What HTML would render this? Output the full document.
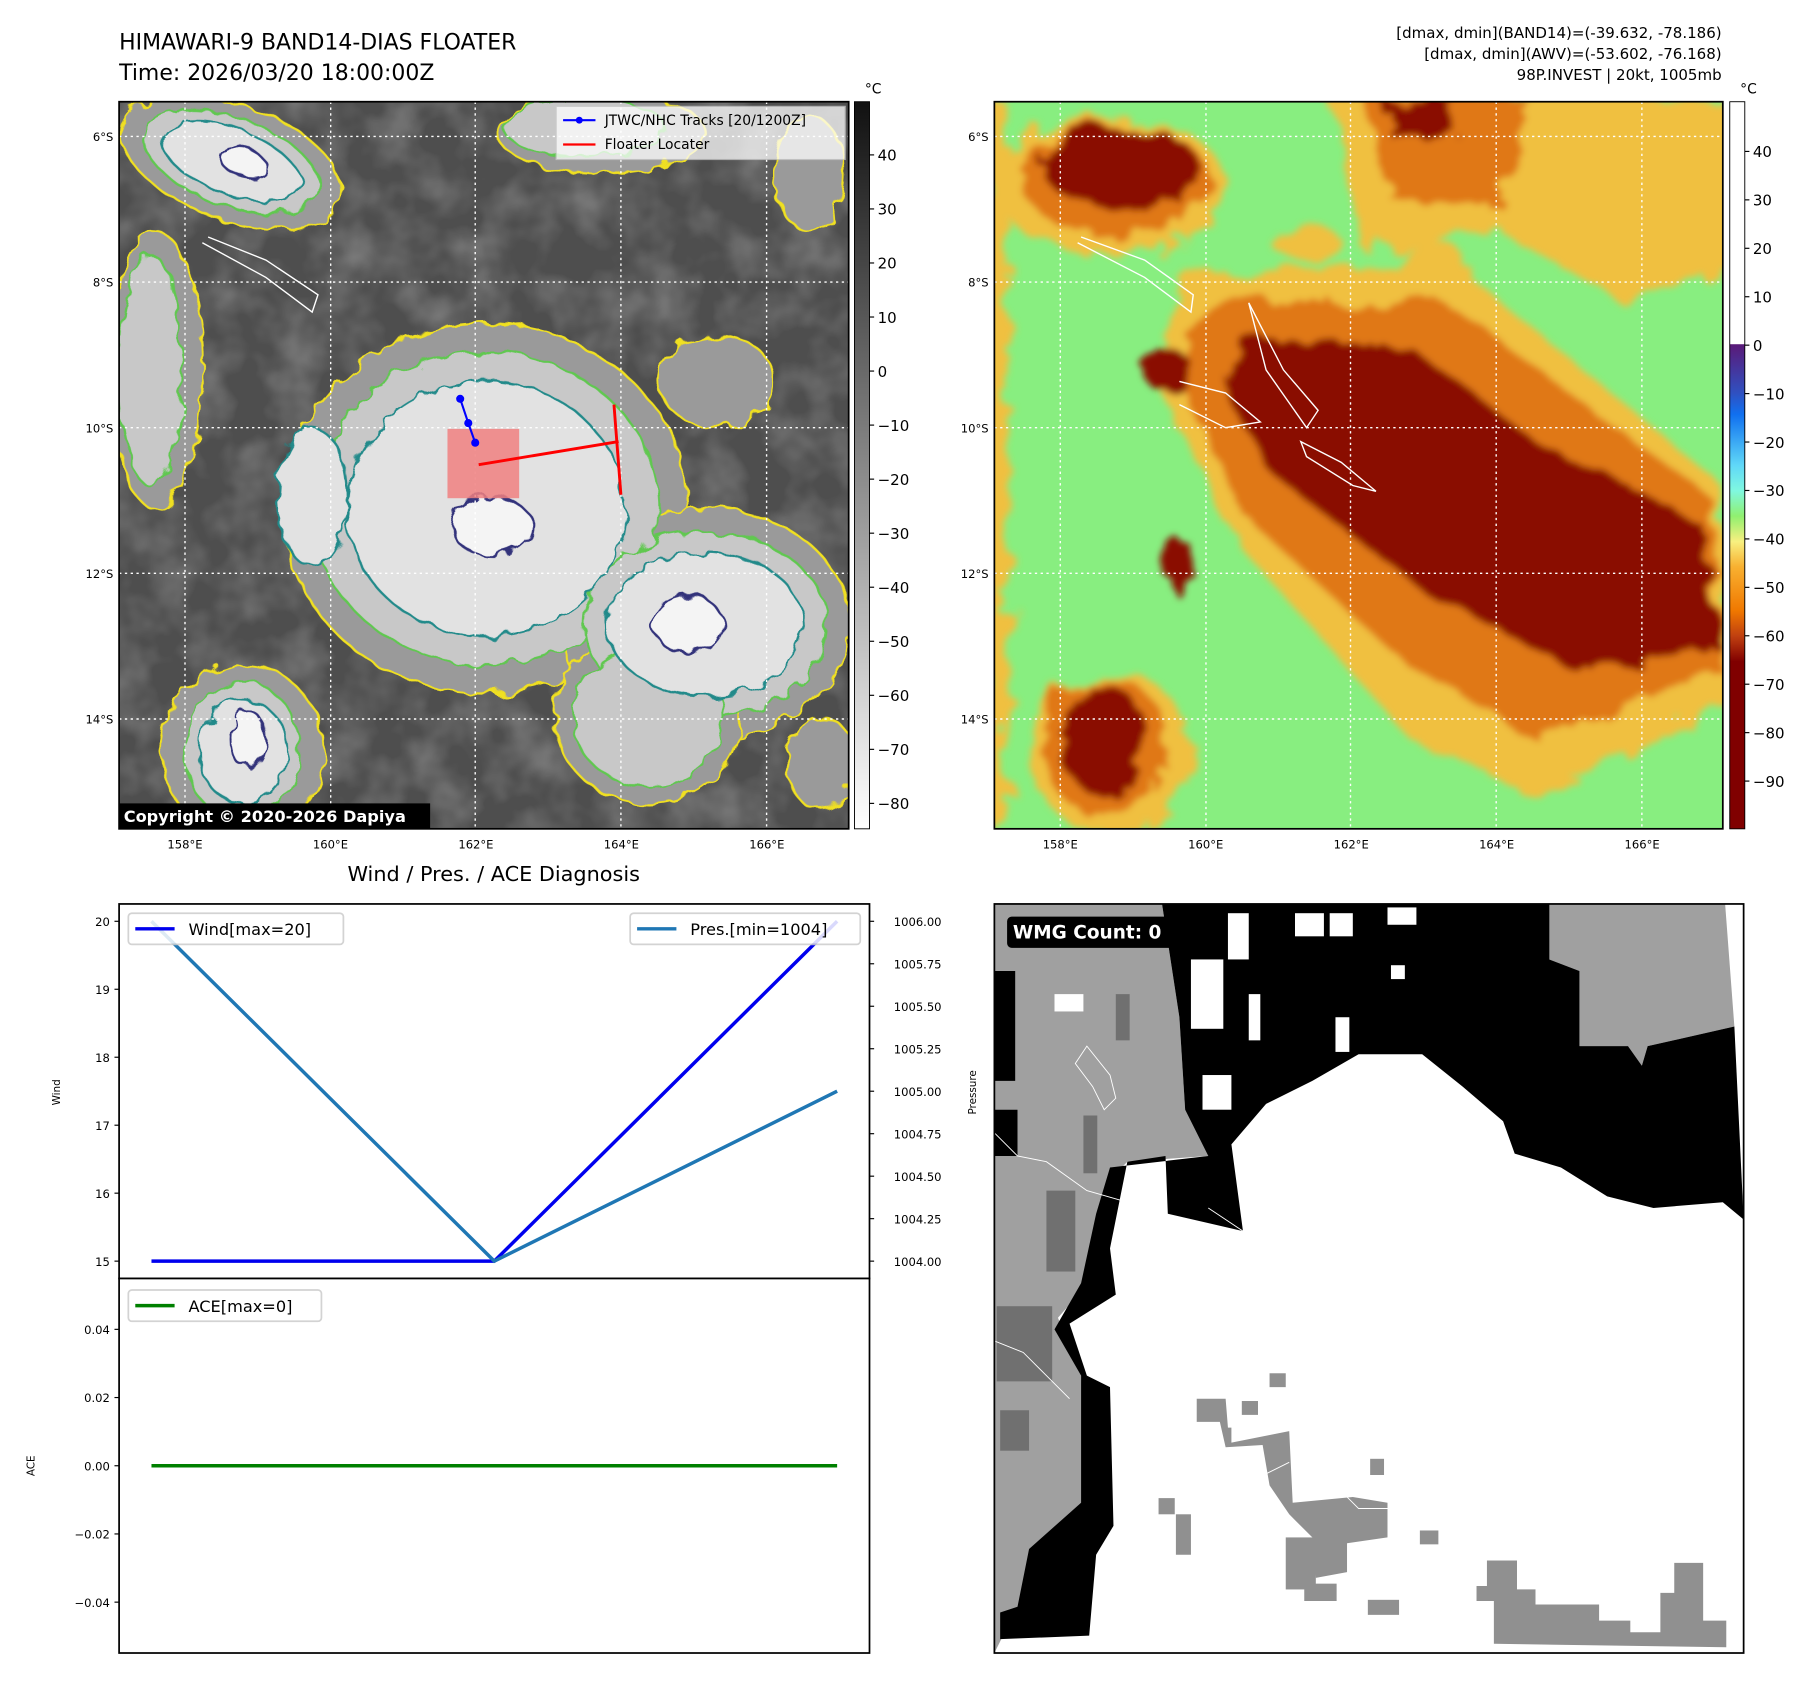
<!DOCTYPE html>
<html><head><meta charset="utf-8">
<style>
html,body{margin:0;padding:0;background:#fff;}
svg{display:block;font-family:"DejaVu Sans","Liberation Sans",sans-serif;}
</style></head>
<body>
<svg id="fig" width="1813" height="1690" viewBox="0 0 1568 1462" preserveAspectRatio="none" xmlns="http://www.w3.org/2000/svg">
<defs>
  <filter id="wig" x="-10%" y="-10%" width="120%" height="120%">
    <feTurbulence type="fractalNoise" baseFrequency="0.06" numOctaves="2" seed="3"/>
    <feDisplacementMap in="SourceGraphic" scale="14"/>
  </filter>
  <filter id="wig2" x="-10%" y="-10%" width="120%" height="120%">
    <feTurbulence type="fractalNoise" baseFrequency="0.04" numOctaves="3" seed="7"/>
    <feDisplacementMap in="SourceGraphic" scale="30"/>
    <feGaussianBlur stdDeviation="3"/>
  </filter>
  <filter id="noise" x="0" y="0" width="100%" height="100%">
    <feTurbulence type="fractalNoise" baseFrequency="0.025" numOctaves="3" seed="11"/>
    <feColorMatrix type="matrix" values="0 0 0 0 0.45  0 0 0 0 0.45  0 0 0 0 0.45  0 0 0 0.8 -0.3"/>
  </filter>
  <linearGradient id="cbL" x1="0" y1="0" x2="0" y2="1">
    <stop offset="0" stop-color="#111"/><stop offset="1" stop-color="#fff"/>
  </linearGradient>
  <linearGradient id="cbR" x1="0" y1="0" x2="0" y2="1">
    <stop offset="0" stop-color="#fff"/>
    <stop offset="0.333" stop-color="#fff"/>
    <stop offset="0.334" stop-color="#5a1a78"/>
    <stop offset="0.40" stop-color="#3050c0"/>
    <stop offset="0.43" stop-color="#1070f0"/>
    <stop offset="0.50" stop-color="#60d8f8"/>
    <stop offset="0.535" stop-color="#80f8e0"/>
    <stop offset="0.57" stop-color="#90f070"/>
    <stop offset="0.605" stop-color="#f8f080"/>
    <stop offset="0.64" stop-color="#f8b030"/>
    <stop offset="0.70" stop-color="#f07800"/>
    <stop offset="0.735" stop-color="#c04010"/>
    <stop offset="0.77" stop-color="#800000"/>
    <stop offset="1" stop-color="#800000"/>
  </linearGradient>
  <clipPath id="clipL"><rect x="103" y="88" width="631" height="629"/></clipPath>
  <clipPath id="clipR"><rect x="860" y="88" width="630" height="629"/></clipPath>
  <clipPath id="clipB"><rect x="860" y="782" width="648" height="648"/></clipPath>
</defs>

<text x="103" y="43" font-size="19">HIMAWARI-9 BAND14-DIAS FLOATER</text>
<text x="103" y="69" font-size="19">Time: 2026/03/20 18:00:00Z</text>
<g font-size="13" text-anchor="end">
  <text x="1489" y="33">[dmax, dmin](BAND14)=(-39.632, -78.186)</text>
  <text x="1489" y="51">[dmax, dmin](AWV)=(-53.602, -76.168)</text>
  <text x="1489" y="69">98P.INVEST | 20kt, 1005mb</text>
</g>

<!-- Left IR map -->
<g clip-path="url(#clipL)">
  <rect x="103" y="88" width="631" height="629" fill="#4e4e4e"/>
  <rect x="103" y="88" width="631" height="629" filter="url(#noise)"/>
  <g filter="url(#wig)">
    <g fill="#9a9a9a" stroke="#f0e020" stroke-width="2">
      <ellipse cx="420" cy="440" rx="175" ry="160"/>
      <ellipse cx="610" cy="540" rx="125" ry="100"/>
      <ellipse cx="560" cy="620" rx="80" ry="75"/>
      <ellipse cx="200" cy="140" rx="100" ry="50" transform="rotate(20 200 140)"/>
      <ellipse cx="210" cy="650" rx="70" ry="75"/>
      <ellipse cx="135" cy="320" rx="40" ry="120"/>
      <ellipse cx="520" cy="115" rx="90" ry="35"/>
      <ellipse cx="620" cy="330" rx="50" ry="40"/>
      <ellipse cx="700" cy="150" rx="30" ry="50"/>
      <ellipse cx="710" cy="660" rx="30" ry="40"/>
    </g>
    <g fill="#c8c8c8" stroke="#60c850" stroke-width="2">
      <ellipse cx="420" cy="440" rx="150" ry="135"/>
      <ellipse cx="610" cy="540" rx="105" ry="80"/>
      <ellipse cx="560" cy="620" rx="65" ry="60"/>
      <ellipse cx="200" cy="140" rx="80" ry="38" transform="rotate(20 200 140)"/>
      <ellipse cx="210" cy="650" rx="50" ry="60"/>
      <ellipse cx="130" cy="320" rx="28" ry="100"/>
      <ellipse cx="505" cy="110" rx="70" ry="25"/>
    </g>
    <g fill="#e2e2e2" stroke="#208a8a" stroke-width="2">
      <ellipse cx="420" cy="440" rx="120" ry="110"/>
      <ellipse cx="610" cy="540" rx="85" ry="62"/>
      <ellipse cx="200" cy="140" rx="62" ry="28" transform="rotate(20 200 140)"/>
      <ellipse cx="210" cy="650" rx="38" ry="45"/>
      <ellipse cx="270" cy="430" rx="30" ry="60"/>
    </g>
    <g fill="#f4f4f4" stroke="#30307a" stroke-width="2">
      <ellipse cx="425" cy="455" rx="35" ry="25"/>
      <ellipse cx="595" cy="540" rx="30" ry="25"/>
      <ellipse cx="215" cy="640" rx="15" ry="25"/>
      <ellipse cx="210" cy="140" rx="22" ry="12" transform="rotate(20 210 140)"/>
    </g>
  </g>
  <g stroke="#fff" stroke-width="1.2" stroke-dasharray="2,3">
    <line x1="103" y1="118" x2="734" y2="118"/><line x1="103" y1="244" x2="734" y2="244"/>
    <line x1="103" y1="370" x2="734" y2="370"/><line x1="103" y1="496" x2="734" y2="496"/>
    <line x1="103" y1="622" x2="734" y2="622"/>
    <line x1="160" y1="88" x2="160" y2="717"/><line x1="286" y1="88" x2="286" y2="717"/>
    <line x1="411" y1="88" x2="411" y2="717"/><line x1="537" y1="88" x2="537" y2="717"/>
    <line x1="663" y1="88" x2="663" y2="717"/>
  </g>
  <path d="M175 210 L230 240 L270 270 L275 255 L230 225 L180 205" fill="none" stroke="#fff" stroke-width="1.2"/>
  <rect x="387" y="371" width="62" height="60" fill="#f08080" opacity="0.85"/>
  <polyline points="414,402 535,382" stroke="#f00" stroke-width="2.5" fill="none"/>
  <polyline points="531,350 537,428" stroke="#f00" stroke-width="2.5" fill="none"/>
  <g>
    <polyline points="398,345 405,366 411,383" stroke="#00f" stroke-width="1.8" fill="none"/>
    <circle cx="398" cy="345" r="3.5" fill="#00f"/><circle cx="405" cy="366" r="3.5" fill="#00f"/><circle cx="411" cy="383" r="3.5" fill="#00f"/>
  </g>
  <g>
    <rect x="481" y="92" width="250" height="46" fill="#fff" opacity="0.75" stroke="#ccc"/>
    <line x1="487" y1="104" x2="515" y2="104" stroke="#00f" stroke-width="1.8"/><circle cx="501" cy="104" r="3" fill="#00f"/>
    <text x="523" y="108" font-size="12">JTWC/NHC Tracks [20/1200Z]</text>
    <line x1="487" y1="125" x2="515" y2="125" stroke="#f00" stroke-width="2"/>
    <text x="523" y="129" font-size="12">Floater Locater</text>
  </g>
  <rect x="103" y="695" width="269" height="22" fill="#000"/>
  <text x="107" y="711" font-size="14" font-weight="bold" fill="#fff">Copyright © 2020-2026 Dapiya</text>
</g>
<rect x="103" y="88" width="631" height="629" fill="none" stroke="#000" stroke-width="1.5"/>

<g>
  <rect x="739" y="88" width="13" height="629" fill="url(#cbL)" stroke="#000" stroke-width="0.8"/>
  <text x="748" y="81" font-size="12">°C</text>
  <g id="cbLticks" font-size="13"></g>
</g>

<!-- Right AWV map -->
<g clip-path="url(#clipR)">
  <rect x="860" y="88" width="630" height="629" fill="#88ee80"/>
  <g filter="url(#wig2)">
    <g fill="#f0c040">
      <polygon points="1150,80 1500,80 1500,230 1400,260 1300,200 1180,220"/>
      <rect x="850" y="88" width="22" height="629"/>
      <polygon points="1020,240 1260,230 1490,420 1500,600 1330,690 1220,640 1070,470 1000,330"/>
      <ellipse cx="960" cy="160" rx="100" ry="60"/>
      <ellipse cx="960" cy="650" rx="70" ry="70"/>
      <ellipse cx="1240" cy="230" rx="30" ry="20"/>
      <ellipse cx="1130" cy="210" rx="30" ry="15"/>
    </g>
    <g fill="#e07818">
      <polygon points="1180,80 1320,80 1300,180 1200,170"/>
      <polygon points="1040,260 1250,260 1480,430 1490,580 1330,640 1210,570 1080,450 1020,330"/>
      <ellipse cx="965" cy="155" rx="82" ry="48"/>
      <ellipse cx="955" cy="645" rx="55" ry="60"/>
    </g>
    <g fill="#8a0a00">
      <polygon points="1070,290 1220,300 1340,390 1470,450 1490,560 1360,580 1230,510 1100,410 1060,340"/>
      <ellipse cx="970" cy="145" rx="68" ry="36"/>
      <ellipse cx="955" cy="640" rx="38" ry="48"/>
      <rect x="1200" y="88" width="60" height="28"/>
      <ellipse cx="1010" cy="320" rx="22" ry="18"/>
      <ellipse cx="1020" cy="490" rx="12" ry="25"/>
    </g>
  </g>
  <g stroke="#fff" stroke-width="1.2" stroke-dasharray="2,3">
    <line x1="860" y1="118" x2="1490" y2="118"/><line x1="860" y1="244" x2="1490" y2="244"/>
    <line x1="860" y1="370" x2="1490" y2="370"/><line x1="860" y1="496" x2="1490" y2="496"/>
    <line x1="860" y1="622" x2="1490" y2="622"/>
    <line x1="917" y1="88" x2="917" y2="717"/><line x1="1043" y1="88" x2="1043" y2="717"/>
    <line x1="1168" y1="88" x2="1168" y2="717"/><line x1="1294" y1="88" x2="1294" y2="717"/>
    <line x1="1420" y1="88" x2="1420" y2="717"/>
  </g>
  <g fill="none" stroke="#fff" stroke-width="1.2">
    <path d="M932 210 L990 240 L1030 270 L1032 255 L990 225 L935 205"/>
    <path d="M1080 262 L1110 320 L1140 355 L1130 370 L1095 320 Z"/>
    <path d="M1125 382 L1160 400 L1190 425 L1170 420 L1130 395 Z"/>
    <path d="M1020 330 L1060 340 L1090 365 L1060 370 L1020 350"/>
  </g>
</g>
<rect x="860" y="88" width="630" height="629" fill="none" stroke="#000" stroke-width="1.5"/>

<g>
  <rect x="1496" y="88" width="13" height="629" fill="url(#cbR)" stroke="#000" stroke-width="0.8"/>
  <text x="1505" y="81" font-size="12">°C</text>
  <g id="cbRticks" font-size="13"></g>
</g>

<g id="mapLabels" font-size="10"></g>

<text x="427" y="762" font-size="18" text-anchor="middle">Wind / Pres. / ACE Diagnosis</text>
<g id="chart"></g>

<!-- WMG map -->
<g clip-path="url(#clipB)">
  <rect x="860" y="782" width="648" height="648" fill="#fff"/>
  <polygon fill="#a0a0a0" points="860,782 1005,782 1020,880 1025,960 1045,1000 975,1005 960,1020 950,1100 915,1140 935,1190 940,1300 905,1330 890,1370 870,1410 860,1430"/>
  <polygon fill="#a0a0a0" points="1340,782 1492,782 1500,888 1425,905 1420,922 1408,905 1366,905 1366,840 1340,830"/>
  <polygon fill="#000" points="1005,782 1340,782 1340,830 1366,840 1366,905 1408,905 1420,922 1425,905 1500,888 1508,1055 1490,1040 1430,1045 1390,1035 1350,1010 1310,998 1300,970 1265,940 1230,912 1175,912 1135,935 1095,955 1065,990 1075,1065 1010,1050 1008,1000 975,1005 960,1080 965,1120 925,1145 940,1190 960,1200 963,1320 948,1345 942,1415 865,1418 865,1395 880,1390 890,1340 935,1300 935,1190 912,1150 935,1110 948,1050 960,1010 1045,1000 1025,960 1020,880"/>
  <polygon fill="#000" points="860,840 878,840 878,935 860,935"/>
  <polygon fill="#000" points="860,960 880,960 880,1000 860,1000"/>
  <g fill="#fff">
    <rect x="1030" y="830" width="28" height="60"/><rect x="1062" y="790" width="18" height="40"/>
    <rect x="1150" y="790" width="20" height="20"/><rect x="1200" y="785" width="25" height="15"/>
    <rect x="1155" y="880" width="12" height="30"/><rect x="1040" y="930" width="25" height="30"/>
    <rect x="1080" y="860" width="10" height="40"/><rect x="1120" y="790" width="25" height="20"/>
    <rect x="912" y="860" width="25" height="15"/><rect x="1203" y="835" width="12" height="12"/>
  </g>
  <g fill="#707070">
    <rect x="965" y="860" width="12" height="40"/><rect x="937" y="965" width="12" height="50"/>
    <rect x="905" y="1030" width="25" height="70"/><rect x="862" y="1130" width="48" height="65"/>
    <rect x="865" y="1220" width="25" height="35"/>
  </g>
  <g fill="#909090">
    <polygon points="1035,1210 1060,1210 1062,1235 1065,1235 1065,1248 1115,1238 1118,1300 1170,1295 1200,1300 1200,1330 1165,1335 1165,1360 1138,1365 1135,1330 1115,1310 1098,1285 1092,1250 1060,1252 1055,1230 1035,1230"/>
    <rect x="1098" y="1188" width="14" height="12"/><rect x="1074" y="1212" width="14" height="12"/>
    <rect x="1185" y="1262" width="12" height="14"/><rect x="1228" y="1324" width="16" height="12"/>
    <rect x="1002" y="1296" width="14" height="14"/><rect x="1017" y="1310" width="13" height="35"/>
    <rect x="1112" y="1330" width="26" height="45"/><rect x="1128" y="1370" width="28" height="15"/>
    <rect x="1183" y="1384" width="27" height="13"/>
    <polygon points="1286,1350 1312,1350 1312,1375 1328,1375 1328,1388 1383,1388 1383,1402 1410,1402 1410,1412 1436,1412 1436,1378 1448,1378 1448,1352 1473,1352 1473,1402 1493,1402 1493,1425 1292,1422 1292,1385 1277,1385 1277,1372 1286,1372"/>
  </g>
  <path d="M930 920 L940 905 L960 930 L965 950 L955 960 L945 940 Z M860 980 L880 1000 L905 1005 L940 1030 L975 1040 M1045 1045 L1075 1065 M860 1160 L885 1170 L905 1190 L925 1210 M1095 1275 L1115 1265 M1160 1290 L1175 1305 L1200 1305" fill="none" stroke="#fff" stroke-width="0.8"/>
</g>
<rect x="860" y="782" width="648" height="648" fill="none" stroke="#000" stroke-width="1.5"/>
<rect x="871" y="793" width="155" height="27" rx="4" fill="#000"/>
<text x="876" y="812" font-size="16" font-weight="bold" fill="#fff">WMG Count: 0</text>
<text transform="translate(844,945) rotate(-90)" font-size="9" text-anchor="middle">Pressure</text>

<script>
const steps = [0, 1, 2];
const windValues = [15, 15, 20];
const presValues = [1006, 1004, 1005];
const aceValues = [0, 0, 0];
const windTicks = [15, 16, 17, 18, 19, 20];
const presTicks = [1004.00, 1004.25, 1004.50, 1004.75, 1005.00, 1005.25, 1005.50, 1005.75, 1006.00];
const aceTicks = [-0.04, -0.02, 0.00, 0.02, 0.04];
const irTicks = [40, 30, 20, 10, 0, -10, -20, -30, -40, -50, -60, -70, -80];
const awvTicks = [40, 30, 20, 10, 0, -10, -20, -30, -40, -50, -60, -70, -80, -90];
const latLabels = ["6°S", "8°S", "10°S", "12°S", "14°S"];
const lonLabels = ["158°E", "160°E", "162°E", "164°E", "166°E"];

const NS = "http://www.w3.org/2000/svg";
function mk(tag, attrs, parent, txt) {
  const e = document.createElementNS(NS, tag);
  for (const k in attrs) e.setAttribute(k, attrs[k]);
  if (txt !== undefined) e.textContent = txt;
  parent.appendChild(e);
  return e;
}
function fmtMinus(v, d) { return (v < 0 ? "\u2212" : "") + Math.abs(v).toFixed(d); }

const cbL = document.getElementById("cbLticks");
const irY = v => 134 + (40 - v) * 4.675;
irTicks.forEach(v => {
  mk("line", {x1: 752, x2: 756, y1: irY(v), y2: irY(v), stroke: "#000"}, cbL);
  const t = mk("text", {x: 759, y: irY(v) + 5}, cbL, fmtMinus(v, 0));
  
  
});
const cbR = document.getElementById("cbRticks");
const awvY = v => 131 + (40 - v) * 4.19;
awvTicks.forEach(v => {
  mk("line", {x1: 1509, x2: 1513, y1: awvY(v), y2: awvY(v), stroke: "#000"}, cbR);
  const t = mk("text", {x: 1516, y: awvY(v) + 5}, cbR, fmtMinus(v, 0));
  
  
});

const ml = document.getElementById("mapLabels");
latLabels.forEach((s, i) => {
  const y = 118 + i * 126;
  [98, 855].forEach(x => {
    const t = mk("text", {x: x, y: y + 4, "text-anchor": "end"}, ml, s);
    
    
  });
});
lonLabels.forEach((s, i) => {
  [160, 917].forEach(x0 => {
    const t = mk("text", {x: x0 + i * 125.8, y: 734, "text-anchor": "middle"}, ml, s);
    
    
  });
});

const ch = document.getElementById("chart");
const X0 = 103, X1 = 752, T0 = 782, T1 = 1106, B1 = 1430;
const xS = i => 131 + (i / (steps.length - 1)) * (724 - 131);
const windY = v => 1091 - (v - 15) * (1091 - 797) / 5;
const presY = v => 1091 - (v - 1004) * (1091 - 797) / 2;
const aceY = v => 1268 - v * (1268 - 1150) / 0.04;

mk("rect", {x: X0, y: T0, width: X1 - X0, height: T1 - T0, fill: "#fff", stroke: "#000", "stroke-width": 1.5}, ch);
mk("rect", {x: X0, y: T1, width: X1 - X0, height: B1 - T1, fill: "#fff", stroke: "#000", "stroke-width": 1.5}, ch);

windTicks.forEach(v => {
  mk("line", {x1: X0 - 4, x2: X0, y1: windY(v), y2: windY(v), stroke: "#000"}, ch);
  const t = mk("text", {x: X0 - 8, y: windY(v) + 4, "text-anchor": "end", "font-size": 10}, ch, String(v));
  
  
});
presTicks.forEach(v => {
  mk("line", {x1: X1, x2: X1 + 4, y1: presY(v), y2: presY(v), stroke: "#000"}, ch);
  const t = mk("text", {x: X1 + 21, y: presY(v) + 4, "font-size": 10}, ch, v.toFixed(2));
  
  
});
aceTicks.forEach(v => {
  mk("line", {x1: X0 - 4, x2: X0, y1: aceY(v), y2: aceY(v), stroke: "#000"}, ch);
  const t = mk("text", {x: X0 - 8, y: aceY(v) + 4, "text-anchor": "end", "font-size": 10}, ch, fmtMinus(v, 2));
  
  
});
const wl = mk("text", {transform: "translate(52,945) rotate(-90)", "font-size": 9, "text-anchor": "middle"}, ch, "Wind");


const al = mk("text", {transform: "translate(30,1268) rotate(-90)", "font-size": 9, "text-anchor": "middle"}, ch, "ACE");



const windLine = mk("polyline", {points: steps.map(i => xS(i) + "," + windY(windValues[i])).join(" "), fill: "none", stroke: "#0000ee", "stroke-width": 3}, ch);


const presLine = mk("polyline", {points: steps.map(i => xS(i) + "," + presY(presValues[i])).join(" "), fill: "none", stroke: "#1f77b4", "stroke-width": 3}, ch);


const aceLine = mk("polyline", {points: steps.map(i => xS(i) + "," + aceY(aceValues[i])).join(" "), fill: "none", stroke: "#008000", "stroke-width": 3}, ch);



function legend(x, y, w, color, label, name) {
  const g = mk("g", {}, ch);
  
  
  mk("rect", {x: x, y: y, width: w, height: 27, rx: 3, fill: "#fff", opacity: 0.85, stroke: "#ccc", "stroke-width": 1.5}, g);
  mk("line", {x1: x + 6, x2: x + 40, y1: y + 13.5, y2: y + 13.5, stroke: color, "stroke-width": 3}, g);
  mk("text", {x: x + 52, y: y + 19, "font-size": 14}, g, label);
}
legend(111, 790, 186, "#0000ee", "Wind[max=" + Math.max(...windValues) + "]", "legend-wind");
legend(545, 790, 199, "#1f77b4", "Pres.[min=" + Math.min(...presValues) + "]", "legend-pressure");
legend(111, 1116, 167, "#008000", "ACE[max=" + Math.max(...aceValues) + "]", "legend-ace");
</script>
</svg>
</body></html>
